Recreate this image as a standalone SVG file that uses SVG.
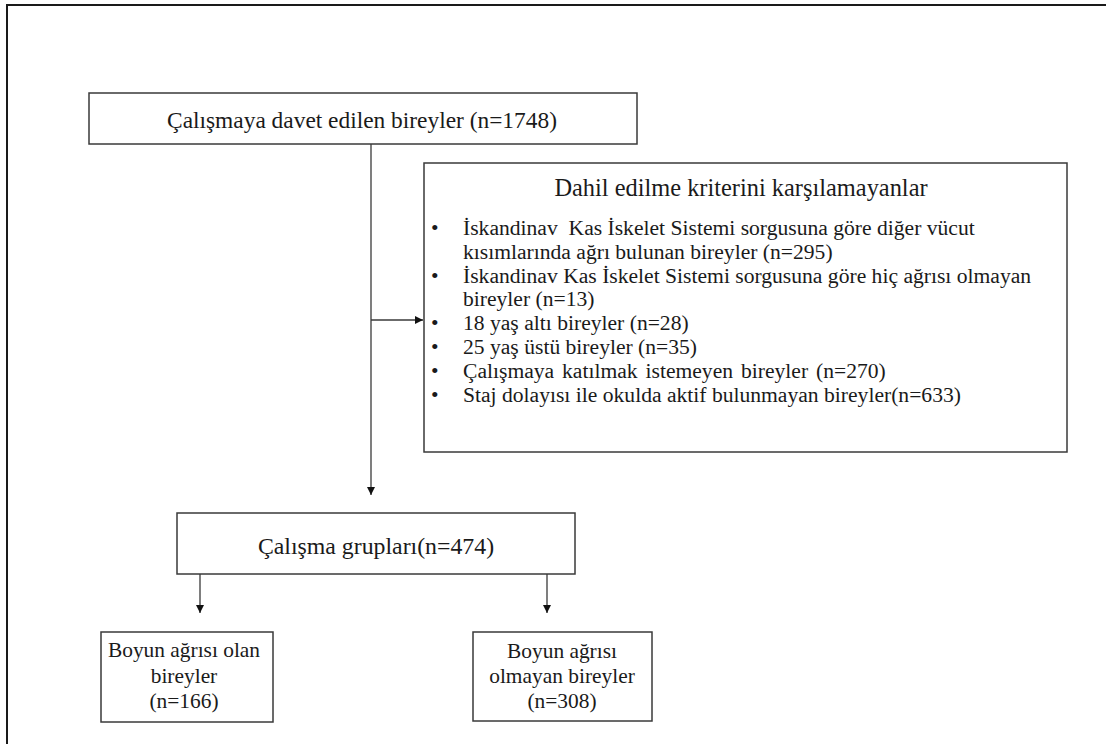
<svg xmlns="http://www.w3.org/2000/svg" width="1106" height="744" viewBox="0 0 1106 744">
<defs>
<marker id="arr" viewBox="0 0 10 10" refX="10" refY="5" markerWidth="9" markerHeight="8" markerUnits="userSpaceOnUse" orient="auto">
<path d="M0,0 L10,5 L0,10 z" fill="#111"/>
</marker>
<style>
.box{fill:#fff;stroke:#3a3a3a;stroke-width:1.5}
.t{font-family:"Liberation Serif","Times New Roman",serif;fill:#1a1a1a}
.c{text-anchor:middle}
.conn{stroke:#3a3a3a;stroke-width:1.3;fill:none}
</style>
</defs>
<rect width="1106" height="744" fill="#fff"/>
<rect x="7" y="5" width="1120" height="760" fill="none" stroke="#1a1a1a" stroke-width="2"/>
<g id="connectors">
<line class="conn" x1="371" y1="144" x2="371" y2="495" marker-end="url(#arr)"/>
<line class="conn" x1="371" y1="320" x2="423" y2="320" marker-end="url(#arr)"/>
<line class="conn" x1="200" y1="574" x2="200" y2="613" marker-end="url(#arr)"/>
<line class="conn" x1="547" y1="574" x2="547" y2="613" marker-end="url(#arr)"/>
</g>
<g id="node-invited">
<rect class="box" x="89" y="93" width="548" height="51"/>
<text class="t c" x="362" y="128" font-size="23.4">Çalışmaya davet edilen bireyler (n=1748)</text>
</g>
<g id="node-excluded">
<rect class="box" x="424" y="163" width="643" height="289"/>
<text class="t c" x="741" y="196" font-size="24.4">Dahil edilme kriterini karşılamayanlar</text>
<g class="t" font-size="21.6">
<text x="431" y="235">•</text>
<text x="463" y="235" xml:space="preserve">İskandinav  Kas İskelet Sistemi sorgusuna göre diğer vücut</text>
<text x="463" y="258.5">kısımlarında ağrı bulunan bireyler (n=295)</text>
<text x="431" y="282.5">•</text>
<text x="463" y="282.5">İskandinav Kas İskelet Sistemi sorgusuna göre hiç ağrısı olmayan</text>
<text x="463" y="306">bireyler (n=13)</text>
<text x="431" y="330">•</text>
<text x="463" y="330">18 yaş altı bireyler (n=28)</text>
<text x="431" y="354">•</text>
<text x="463" y="354">25 yaş üstü bireyler (n=35)</text>
<text x="431" y="378">•</text>
<text x="463" y="378" word-spacing="2.5">Çalışmaya katılmak istemeyen bireyler (n=270)</text>
<text x="431" y="402">•</text>
<text x="463" y="402">Staj dolayısı ile okulda aktif bulunmayan bireyler(n=633)</text>
</g>
</g>
<g id="node-groups">
<rect class="box" x="177" y="513" width="398" height="61"/>
<text class="t c" x="376" y="554" font-size="23.8">Çalışma grupları(n=474)</text>
</g>
<g id="node-pain">
<rect class="box" x="101" y="632" width="172" height="90"/>
<g class="t c" font-size="21.4">
<text x="184" y="657">Boyun ağrısı olan</text>
<text x="184" y="683">bireyler</text>
<text x="184" y="708">(n=166)</text>
</g>
</g>
<g id="node-nopain">
<rect class="box" x="473" y="632" width="179" height="89"/>
<g class="t c" font-size="21.4">
<text x="562" y="658">Boyun ağrısı</text>
<text x="562" y="683">olmayan bireyler</text>
<text x="562" y="708">(n=308)</text>
</g>
</g>
</svg>
